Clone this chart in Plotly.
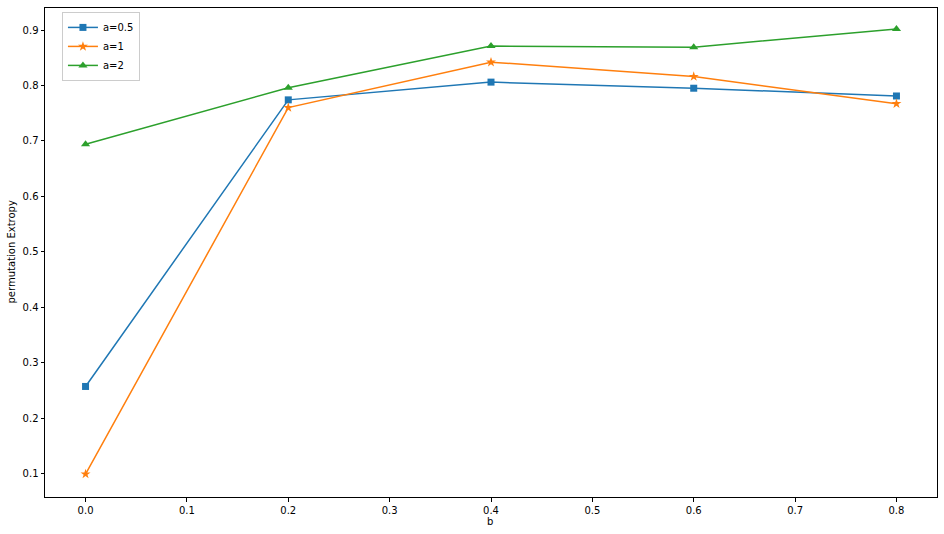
import plotly.graph_objects as go

b = [0.0, 0.2, 0.4, 0.6, 0.8]
a05 = [0.257, 0.774, 0.806, 0.795, 0.781]
a1 = [0.099, 0.760, 0.842, 0.816, 0.767]
a2 = [0.694, 0.796, 0.871, 0.869, 0.902]

series = [
    ("a=0.5", a05, "#1f77b4", "square", 7),
    ("a=1", a1, "#ff7f0e", "star", 7.5),
    ("a=2", a2, "#2ca02c", "triangle-up", 8),
]

fig = go.Figure()
for name, ys, color, sym, size in series:
    fig.add_trace(go.Scatter(
        x=b, y=ys, name=name, mode="lines+markers",
        line=dict(color=color, width=1.5),
        marker=dict(symbol=sym, size=size, color=color, line=dict(width=0)),
    ))

axis_common = dict(
    showline=True, linecolor="black", linewidth=1, mirror=True,
    ticks="outside", ticklen=3.5, tickwidth=1, tickcolor="black",
    showgrid=False, zeroline=False, automargin=False,
    tickfont=dict(family="DejaVu Sans", size=10, color="black"),
)

W, H = 944, 534
L, R, T, B = 45, 7, 8, 37
pw, ph = W - L - R, H - T - B

fig.update_layout(
    width=W, height=H,
    margin=dict(l=L, r=R, t=T, b=B, autoexpand=False),
    paper_bgcolor="white", plot_bgcolor="white",
    font=dict(family="DejaVu Sans", size=10, color="black"),
    xaxis=dict(range=[-0.04, 0.84], tickvals=[0, 0.1, 0.2, 0.3, 0.4, 0.5, 0.6, 0.7, 0.8],
               ticktext=["0.0", "0.1", "0.2", "0.3", "0.4", "0.5", "0.6", "0.7", "0.8"],
               **axis_common),
    yaxis=dict(range=[0.0576, 0.9397], tickvals=[0.1, 0.2, 0.3, 0.4, 0.5, 0.6, 0.7, 0.8, 0.9],
               ticktext=["0.1", "0.2", "0.3", "0.4", "0.5", "0.6", "0.7", "0.8", "0.9"],
               **axis_common),
    legend=dict(x=0.019, y=0.992, xanchor="left", yanchor="top",
                bgcolor="white", bordercolor="#cccccc", borderwidth=1,
                font=dict(size=10), itemwidth=30, tracegroupgap=0),
    showlegend=True,
    annotations=[
        dict(text="b", xref="paper", yref="paper", x=(490 - L) / pw, y=-(521 - (T + ph)) / ph,
             showarrow=False, xanchor="center", yanchor="middle", font=dict(size=10)),
        dict(text="permutation Extropy", xref="paper", yref="paper", x=-(L - 11) / pw, y=0.5,
             textangle=-90, showarrow=False, xanchor="center", yanchor="middle", font=dict(size=10)),
    ],
)

fig.write_html("out.html", config={"displayModeBar": False},
               post_script="document.body.style.margin='0';document.body.style.overflow='hidden';")
